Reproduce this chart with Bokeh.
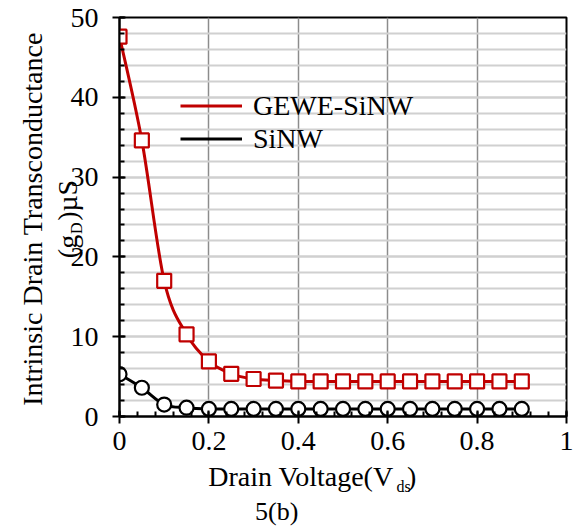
import numpy as np
from bokeh.plotting import figure
from bokeh.models import (ColumnDataSource, FixedTicker, CustomJSTickFormatter,
                          Label, Legend, LegendItem)
from bokeh.embed import file_html
from bokeh.resources import INLINE

# ---- data -------------------------------------------------------------
vds = [0.0, 0.05, 0.1, 0.15, 0.2, 0.25, 0.3, 0.35, 0.4, 0.45,
       0.5, 0.55, 0.6, 0.65, 0.7, 0.75, 0.8, 0.85, 0.9]
gd_gewe = [47.6, 34.6, 17.0, 10.3, 6.9, 5.35, 4.7, 4.5, 4.4, 4.4,
           4.4, 4.4, 4.4, 4.4, 4.4, 4.4, 4.4, 4.4, 4.4]
gd_sinw = [5.3, 3.6, 1.5, 1.1, 0.95, 0.95, 0.95, 0.95, 0.95, 0.95,
           0.95, 0.95, 0.95, 0.95, 0.95, 0.95, 0.95, 0.95, 0.95]
series_names = ["GEWE-SiNW", "SiNW"]
x_ticks = [0, 0.2, 0.4, 0.6, 0.8, 1.0]
x_minor = [round(0.04 * i, 2) for i in range(26)]
y_ticks = [0, 10, 20, 30, 40, 50]
y_minor = list(range(0, 51, 2))

RED = "#c00000"
FONT = "Liberation Serif"
NBSP2 = "\u00a0\u00a0"   # room left for a subscript

# ---- figure geometry ----------------------------------------------------
W, H = 580, 527
L, R, T, B = 119, 13, 17, 111
X0, X1 = 0.0, 1.0
Y0, Y1 = 0.0, 50.0
fw, fh = W - L - R, H - T - B


def px_x(px):
    """canvas pixel column -> data x"""
    return X0 + (px - L) / fw * (X1 - X0)


def px_y(py):
    """canvas pixel row -> data y"""
    return Y0 + (H - B - py) / fh * (Y1 - Y0)


p = figure(width=W, height=H, x_range=(X0, X1), y_range=(Y0, Y1),
           output_backend="svg", toolbar_location=None,
           min_border_left=L, min_border_right=R,
           min_border_top=T, min_border_bottom=B)
p.title.visible = False
p.background_fill_color = "white"
p.border_fill_color = "white"
p.outline_line_color = "black"
p.outline_line_width = 2

# ---- axes --------------------------------------------------------------
fmt = CustomJSTickFormatter(code="return String(Math.round(tick*10)/10);")
p.xaxis.ticker = FixedTicker(ticks=x_ticks, minor_ticks=x_minor)
p.yaxis.ticker = FixedTicker(ticks=y_ticks, minor_ticks=y_minor)
for ax in (p.xaxis[0], p.yaxis[0]):
    ax.formatter = fmt
    ax.axis_line_color = "black"
    ax.axis_line_width = 2
    ax.major_tick_line_color = "black"
    ax.major_tick_line_width = 2
    ax.minor_tick_line_color = "black"
    ax.minor_tick_line_width = 2
    ax.major_label_text_font = FONT
    ax.major_label_text_font_size = "28px"
    ax.major_label_text_color = "black"
    ax.major_tick_out = 7
    ax.major_tick_in = 6
    ax.minor_tick_out = 0
    ax.minor_tick_in = 5
p.xaxis.major_label_standoff = 8
p.yaxis.major_label_standoff = 14

p.xgrid.grid_line_color = "#8c8c8c"
p.xgrid.grid_line_width = 1.5
p.ygrid.grid_line_color = "#d0d0d0"
p.ygrid.grid_line_width = 2
p.ygrid.minor_grid_line_color = "#d0d0d0"
p.ygrid.minor_grid_line_width = 2


# ---- smoothed connecting curves (Catmull-Rom as cubic Bezier) ----------
def smooth_source(xs, ys):
    x = np.asarray(xs, float)
    y = np.asarray(ys, float)
    n = len(x)
    xp = np.concatenate([[x[0]], x, [x[-1]]])
    yp = np.concatenate([[y[0]], y, [y[-1]]])
    i = np.arange(n - 1)
    cx0 = x[i] + (xp[i + 2] - xp[i]) / 6
    cy0 = y[i] + (yp[i + 2] - yp[i]) / 6
    cx1 = x[i + 1] - (xp[i + 3] - xp[i + 1]) / 6
    cy1 = y[i + 1] - (yp[i + 3] - yp[i + 1]) / 6
    return ColumnDataSource(dict(x0=x[:-1], y0=y[:-1], x1=x[1:], y1=y[1:],
                                 cx0=cx0, cy0=cy0, cx1=cx1, cy1=cy1))


r_gewe = p.bezier(x0="x0", y0="y0", x1="x1", y1="y1", cx0="cx0", cy0="cy0",
                  cx1="cx1", cy1="cy1", source=smooth_source(vds, gd_gewe),
                  line_color=RED, line_width=3)
r_sinw = p.bezier(x0="x0", y0="y0", x1="x1", y1="y1", cx0="cx0", cy0="cy0",
                  cx1="cx1", cy1="cy1", source=smooth_source(vds, gd_sinw),
                  line_color="black", line_width=3)

p.scatter(vds, gd_gewe, marker="square", size=14, fill_color="white",
          line_color=RED, line_width=2.2)
p.scatter(vds, gd_sinw, marker="circle", size=14, fill_color="white",
          line_color="black", line_width=2.2)

# ---- legend ------------------------------------------------------------
legend = Legend(items=[LegendItem(label=series_names[0], renderers=[r_gewe]),
                       LegendItem(label=series_names[1], renderers=[r_sinw])],
                location=(180 - L, H - B - 155), orientation="vertical",
                glyph_width=62, glyph_height=33, label_height=33,
                label_standoff=11, spacing=0, padding=0, margin=0,
                border_line_color=None, background_fill_alpha=0,
                label_text_font=FONT, label_text_font_size="28px",
                label_text_color="black")
p.add_layout(legend, "center")


# ---- axis titles -------------------------------------------------------
# Side-panel labels are drawn outside the frame without clipping; they are
# spread over the panels so the borders keep their sizes.
BASE_SHIFT = 0.39   # anchor-to-baseline offset, in em


def label(text, px, py, side, size=28, align="left", rotated=False):
    shift = BASE_SHIFT * size
    if rotated:
        px -= shift
    else:
        py -= shift
    p.add_layout(Label(x=px_x(px), y=px_y(py), text=text,
                       angle=np.pi / 2 if rotated else 0.0,
                       text_font=FONT, text_font_size=f"{size}px",
                       text_color="black", text_align=align,
                       text_baseline="alphabetic"), side)


# x title with its subscript, and the panel tag below it
label("Drain Voltage(V" + NBSP2 + ")", 208, 487, "below")
label("ds", 396.5, 492, "right", size=16)
label("5(b)", 276.5, 521, "below", size=26, align="center")

# y title: two rotated lines, the second with a subscript
label("Intrinsic Drain Transconductance", 43, 218.5, "left",
      align="center", rotated=True)
label("(g" + NBSP2 + ")\u00b5S", 78, 218.5, "left", align="center",
      rotated=True)
label("D", 82, 233.5, "above", size=16, rotated=True)

open("out.html", "w").write(file_html(p, INLINE))
